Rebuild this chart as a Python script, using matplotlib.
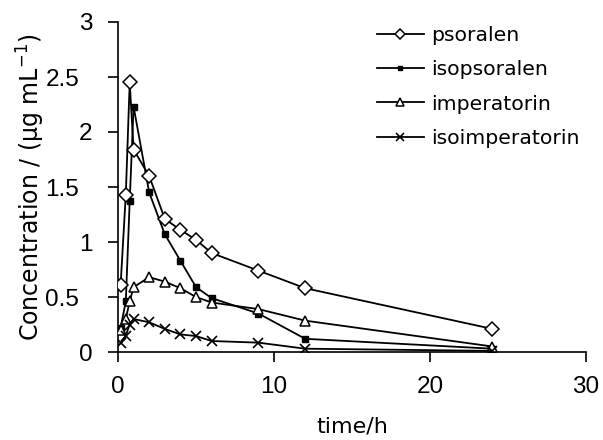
import matplotlib
matplotlib.use("Agg")
import matplotlib.pyplot as plt
from matplotlib.transforms import ScaledTranslation

plt.rcParams['font.family'] = ['DejaVu Sans']

# sampling times (h)
t = [0.167, 0.5, 0.75, 1, 2, 3, 4, 5, 6, 9, 12, 24]

psoralen = [0.61, 1.43, 2.45, 1.84, 1.60, 1.21, 1.11, 1.02, 0.90, 0.74, 0.58, 0.21]
isopsoralen = [0.22, 0.46, 1.37, 2.23, 1.45, 1.07, 0.83, 0.59, 0.49, 0.35, 0.12, 0.03]
imperatorin = [0.20, 0.30, 0.46, 0.59, 0.68, 0.64, 0.58, 0.50, 0.45, 0.39, 0.285, 0.05]
isoimperatorin = [0.08, 0.15, 0.25, 0.30, 0.27, 0.21, 0.16, 0.145, 0.10, 0.085, 0.03, 0.01]

xticks = [0, 10, 20, 30]
yticks = [0, 0.5, 1, 1.5, 2, 2.5, 3]
ytick_labels = ['0', '0.5', '1', '1.5', '2', '2.5', '3']

fig = plt.figure(figsize=(6.03, 4.40), dpi=100)
ax = fig.add_axes([118/603, 88/440, 468/603, 330/440])

lw = 1.3
ax.plot(t, psoralen, color='black', lw=lw, marker='D', ms=7.5,
        mfc='white', mec='black', mew=1.1, label='psoralen', zorder=4)
ax.plot(t, isopsoralen, color='black', lw=lw, marker='s', ms=5,
        mfc='black', mec='black', label='isopsoralen', zorder=3)
ax.plot(t, imperatorin, color='black', lw=lw, marker='^', ms=7.5,
        mfc='white', mec='black', mew=1.1, label='imperatorin', zorder=3)
ax.plot(t, isoimperatorin, color='black', lw=lw, marker='x', ms=7.5,
        mec='black', mew=1.2, label='isoimperatorin', zorder=3)

ax.set_xlim(0, 30)
ax.set_ylim(0, 3)
ax.set_xticks(xticks)
ax.set_yticks(yticks)
ax.set_yticklabels(ytick_labels)
for s in ['top', 'right']:
    ax.spines[s].set_visible(False)
for s in ['left', 'bottom']:
    ax.spines[s].set_linewidth(1.2)
ax.tick_params(direction='out', length=7, width=1.2, labelsize=17.5,
               labelfontfamily='Liberation Sans')
ax.tick_params(axis='x', pad=10.5)
ax.tick_params(axis='y', pad=11.5)

# decimal labels sit further left than the integer ones in the original
shift = ScaledTranslation(-13/100, 0, fig.dpi_scale_trans)
for lab, txt in zip(ax.get_yticklabels(), ytick_labels):
    if '.' in txt:
        lab.set_transform(lab.get_transform() + shift)

ax.set_xlabel('time/h', fontsize=16, labelpad=13)
ax.set_ylabel('Concentration / (μg mL$^{-1}$)', fontsize=17, labelpad=-1)

leg = fig.legend(loc='upper left', bbox_to_anchor=(377/603, 1 - 26/440),
                 frameon=False, fontsize=14.7, markerscale=0.7,
                 handlelength=2.3, handletextpad=0.35, labelspacing=0.75,
                 borderpad=0, borderaxespad=0)

fig.savefig('out.png', dpi=100)
